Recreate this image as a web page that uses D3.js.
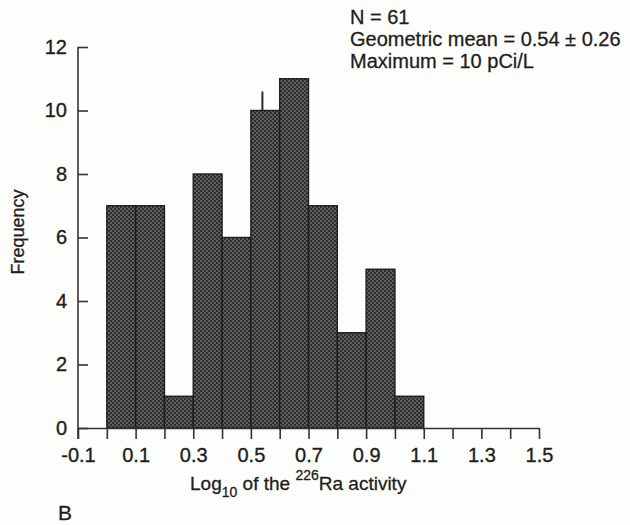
<!DOCTYPE html>
<html lang="en">
<head>
<meta charset="UTF-8">
<title>226Ra histogram</title>
<script src="https://d3js.org/d3.v7.min.js"></script>
<style>
    body { margin: 0; background: #fdfdfc; font-family: 'Liberation Sans', Arial, sans-serif; }
    .axis path, .axis line { stroke: #333; stroke-width: 1.6px; }
    .axis text { font-size: 20px; fill: #1e1e1e; stroke: #1e1e1e; stroke-width: 0.35px; }
    .note { font-size: 19px; fill: #1e1e1e; stroke: #1e1e1e; stroke-width: 0.3px; }
</style>
</head>
<body>
<div id="chart"></div>
<script>
// bins of log10 activity and their counts
const binStarts = [0.0, 0.1, 0.2, 0.3, 0.4, 0.5, 0.6, 0.7, 0.8, 0.9, 1.0];
const counts    = [7, 7, 1, 8, 6, 10, 11, 7, 3, 5, 1];
const xTicks = [-0.1, 0, 0.1, 0.2, 0.3, 0.4, 0.5, 0.6, 0.7, 0.8, 0.9, 1.0, 1.1, 1.2, 1.3, 1.4, 1.5];
const xLabels = [-0.1, 0.1, 0.3, 0.5, 0.7, 0.9, 1.1, 1.3, 1.5];
const yTicks = [0, 2, 4, 6, 8, 10, 12];
const meanValue = 0.54;
const notes = ["N = 61", "Geometric mean = 0.54 \u00b1 0.26", "Maximum = 10 pCi/L"];

const width = 630, height = 525;
const svg = d3.select("#chart").append("svg")
    .attr("width", width)
    .attr("height", height);

const x = d3.scaleLinear().domain([-0.1, 1.5]).range([78, 539]);
const y = d3.scaleLinear().domain([0, 12]).range([428, 47]);

// stippled fill like the printed halftone
const defs = svg.append("defs");
const pat = defs.append("pattern")
    .attr("id", "dots")
    .attr("width", 4).attr("height", 4)
    .attr("patternUnits", "userSpaceOnUse");
pat.append("rect").attr("width", 4).attr("height", 4).attr("fill", "#2e2e2e");
pat.append("rect").attr("x", 0).attr("y", 0).attr("width", 2).attr("height", 2).attr("fill", "#5e5e5e");
pat.append("rect").attr("x", 2).attr("y", 2).attr("width", 2).attr("height", 2).attr("fill", "#5e5e5e");

svg.append("g")
    .selectAll("rect")
    .data(binStarts)
    .enter().append("rect")
    .attr("x", d => x(d))
    .attr("y", (d, i) => y(counts[i]))
    .attr("width", d => x(d + 0.1) - x(d))
    .attr("height", (d, i) => y(0) - y(counts[i]))
    .attr("fill", "url(#dots)")
    .attr("stroke", "#1e1e1e")
    .attr("stroke-width", 1.4);

// mean marker
svg.append("line")
    .attr("x1", x(meanValue)).attr("x2", x(meanValue))
    .attr("y1", y(10)).attr("y2", y(10.6))
    .attr("stroke", "#2a2a2a").attr("stroke-width", 2);

// x axis
const xAxis = svg.append("g")
    .attr("class", "axis")
    .attr("transform", "translate(0," + y(0) + ")")
    .call(d3.axisBottom(x)
        .tickValues(xTicks)
        .tickSize(11)
        .tickSizeOuter(0)
        .tickFormat(d => xLabels.some(v => Math.abs(v - d) < 1e-9) ? d3.format(".1f")(d).replace("\u2212", "-") : ""));
xAxis.selectAll("text").attr("y", 20).attr("dy", "0.71em");

// y axis, ticks point into the plot
const yAxis = svg.append("g")
    .attr("class", "axis")
    .attr("transform", "translate(" + x(-0.1) + ",0)")
    .call(d3.axisRight(y)
        .tickValues(yTicks)
        .tickSize(10)
        .tickSizeOuter(0)
        .tickFormat(d3.format("d")));
yAxis.selectAll("text")
    .attr("x", -11)
    .attr("text-anchor", "end");
yAxis.select(".domain").remove();
yAxis.append("line")
    .attr("x1", 0).attr("x2", 0)
    .attr("y1", y(12)).attr("y2", y(0) + 11)
    .attr("stroke", "#333").attr("stroke-width", 1.6);

// axis titles
svg.append("text")
    .attr("class", "note")
    .attr("transform", "translate(24,232) rotate(-90)")
    .attr("text-anchor", "middle")
    .style("font-size", "18px")
    .text("Frequency");

const xt = svg.append("text")
    .attr("class", "note")
    .attr("x", 190).attr("y", 490);
xt.append("tspan").text("Log");
xt.append("tspan").attr("dy", 7).attr("font-size", 14).text("10");
xt.append("tspan").attr("dy", -7).text(" of the ");
xt.append("tspan").attr("dy", -10).attr("font-size", 14).text("226");
xt.append("tspan").attr("dy", 10).text("Ra activity");

svg.append("text")
    .attr("class", "note")
    .attr("x", 58).attr("y", 520)
    .style("font-size", "21px")
    .text("B");

// summary text
svg.append("g")
    .selectAll("text")
    .data(notes)
    .enter().append("text")
    .attr("class", "note")
    .attr("x", 350)
    .attr("y", (d, i) => 24 + i * 22)
    .style("font-size", "20px")
    .text(d => d);
</script>
</body>
</html>
